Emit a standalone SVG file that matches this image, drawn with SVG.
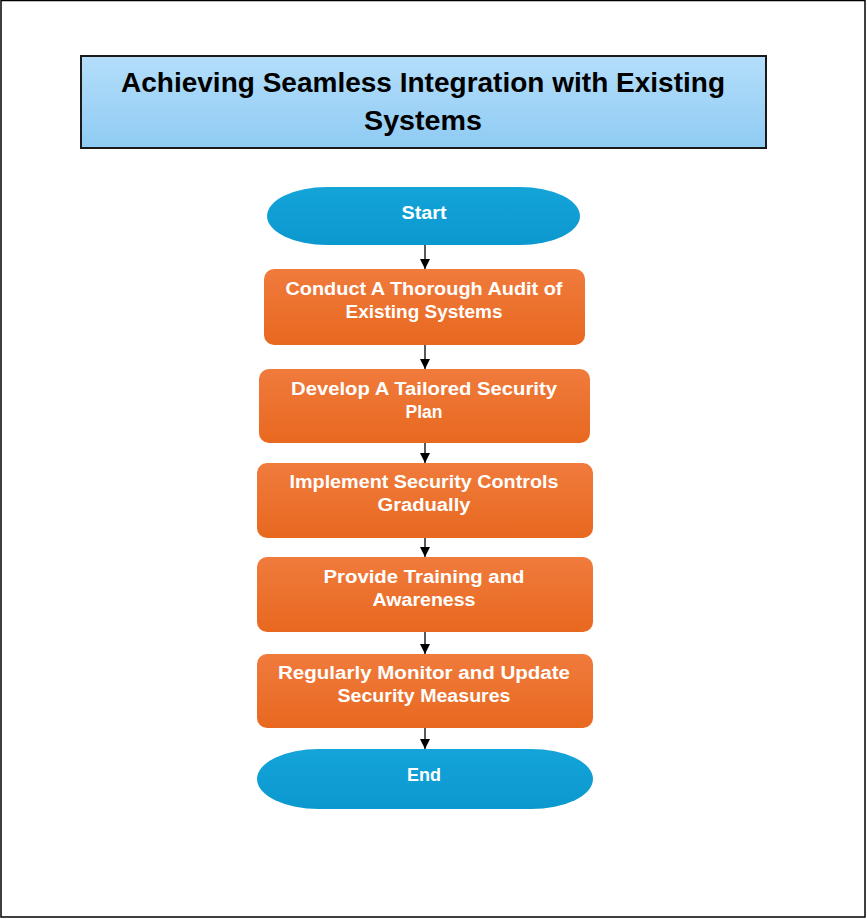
<svg xmlns="http://www.w3.org/2000/svg" width="867" height="919" viewBox="0 0 867 919">
<defs>
<linearGradient id="gTitle" x1="0" y1="0" x2="0" y2="1">
<stop offset="0" stop-color="#b4defa"/>
<stop offset="1" stop-color="#8fcbf3"/>
</linearGradient>
<linearGradient id="gOrange" x1="0" y1="0" x2="0" y2="1">
<stop offset="0" stop-color="#f07b3d"/>
<stop offset="1" stop-color="#e8681f"/>
</linearGradient>
<linearGradient id="gBlue" x1="0" y1="0" x2="0" y2="1">
<stop offset="0" stop-color="#14a4d8"/>
<stop offset="1" stop-color="#0b98cf"/>
</linearGradient>
<marker id="arr" viewBox="0 0 10 10" refX="10" refY="5" markerWidth="10" markerHeight="10" markerUnits="userSpaceOnUse" orient="auto">
<path d="M0,0 L10,5 L0,10 z" fill="#000"/>
</marker>
</defs>
<style>
.box{fill:url(#gOrange);}
.pill{fill:url(#gBlue);}
.t{font-family:"Liberation Sans","DejaVu Sans",sans-serif;font-weight:bold;fill:#ffffff;font-size:18px;text-anchor:middle;}
.title{font-family:"Liberation Sans","DejaVu Sans",sans-serif;font-weight:bold;fill:#000;font-size:27px;text-anchor:middle;}
.c{stroke:#000;stroke-width:1.3;fill:none;marker-end:url(#arr);}
</style>
<rect x="1" y="0.5" width="864" height="916.5" fill="#fff" stroke="#000" stroke-width="1.5"/>
<g id="title">
<rect x="81" y="56" width="685" height="92" fill="url(#gTitle)" stroke="#1a1a1a" stroke-width="2"/>
<text class="title" x="423" y="92" textLength="604" lengthAdjust="spacingAndGlyphs">Achieving Seamless Integration with Existing</text>
<text class="title" x="423" y="130" textLength="118" lengthAdjust="spacingAndGlyphs">Systems</text>
</g>
<g id="connectors">
<line class="c" x1="425" y1="245" x2="425" y2="269"/>
<line class="c" x1="425" y1="345" x2="425" y2="369"/>
<line class="c" x1="425" y1="443" x2="425" y2="463"/>
<line class="c" x1="425" y1="538" x2="425" y2="557"/>
<line class="c" x1="425" y1="632" x2="425" y2="654"/>
<line class="c" x1="425" y1="728" x2="425" y2="749"/>
</g>
<g id="start">
<rect class="pill" x="267" y="187" width="313" height="58" rx="60" ry="29"/>
<text class="t" x="424" y="219" textLength="45" lengthAdjust="spacingAndGlyphs">Start</text>
</g>
<g id="step1">
<rect class="box" x="264" y="269" width="321" height="76" rx="10"/>
<text class="t" x="424" y="295" textLength="277" lengthAdjust="spacingAndGlyphs">Conduct A Thorough Audit of</text>
<text class="t" x="424" y="318" textLength="157" lengthAdjust="spacingAndGlyphs">Existing Systems</text>
</g>
<g id="step2">
<rect class="box" x="259" y="369" width="331" height="74" rx="10"/>
<text class="t" x="424" y="395" textLength="266" lengthAdjust="spacingAndGlyphs">Develop A Tailored Security</text>
<text class="t" x="424" y="418" textLength="37" lengthAdjust="spacingAndGlyphs">Plan</text>
</g>
<g id="step3">
<rect class="box" x="257" y="463" width="336" height="75" rx="10"/>
<text class="t" x="424" y="488" textLength="269" lengthAdjust="spacingAndGlyphs">Implement Security Controls</text>
<text class="t" x="424" y="511" textLength="93" lengthAdjust="spacingAndGlyphs">Gradually</text>
</g>
<g id="step4">
<rect class="box" x="257" y="557" width="336" height="75" rx="10"/>
<text class="t" x="424" y="583" textLength="201" lengthAdjust="spacingAndGlyphs">Provide Training and</text>
<text class="t" x="424" y="606" textLength="103" lengthAdjust="spacingAndGlyphs">Awareness</text>
</g>
<g id="step5">
<rect class="box" x="257" y="654" width="336" height="74" rx="10"/>
<text class="t" x="424" y="679" textLength="292" lengthAdjust="spacingAndGlyphs">Regularly Monitor and Update</text>
<text class="t" x="424" y="702" textLength="173" lengthAdjust="spacingAndGlyphs">Security Measures</text>
</g>
<g id="end">
<rect class="pill" x="257" y="749" width="336" height="60" rx="62" ry="30"/>
<text class="t" x="424" y="781" textLength="34" lengthAdjust="spacingAndGlyphs">End</text>
</g>
</svg>
